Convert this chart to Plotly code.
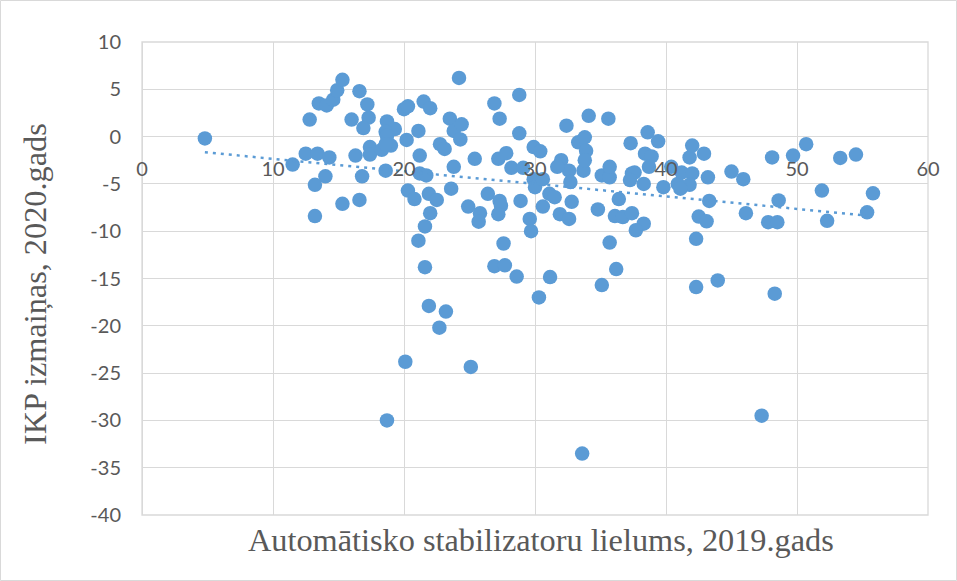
import plotly.graph_objects as go

# Automātisko stabilizatoru lielums, 2019 (x) vs IKP izmaiņas, 2020 (y)
x_vals = [
    4.8, 11.5, 12.5, 13.4, 14.3, 12.8, 13.5, 14.1, 14.6, 14.9,
    15.3, 16.6, 17.2, 17.3, 16.0, 16.9, 16.3, 17.4, 17.4, 14.0,
    13.2, 16.8, 15.3, 16.6, 13.2, 18.7, 19.3, 18.6, 20.0, 20.3,
    21.5, 22.0, 21.1, 20.2, 18.7, 19.0, 18.3, 18.6, 18.6, 20.3,
    20.8, 21.2, 21.2, 21.7, 21.9, 22.5, 22.0, 21.6, 21.1, 21.6,
    23.5, 23.8, 24.4, 24.3, 24.2, 22.75, 23.1, 23.8, 23.6, 25.4,
    24.9, 25.8, 25.7, 26.9, 27.3, 27.2, 27.8, 26.4, 27.3, 27.4,
    27.2, 27.6, 26.9, 27.7, 28.6, 28.8, 28.8, 28.2, 29.1, 29.9,
    30.4, 28.9, 29.6, 29.7, 29.9, 30.0, 30.6, 31.1, 31.5, 30.6,
    31.15, 32.0, 32.4, 31.9, 32.6, 32.6, 32.7, 32.8, 33.3, 33.8,
    33.9, 34.1, 33.7, 33.8, 34.8, 35.1, 35.7, 35.6, 35.7, 36.1,
    35.7, 36.2, 37.3, 38.6, 39.4, 38.4, 38.9, 38.7, 37.4, 37.6,
    37.25, 38.3, 36.4, 36.7, 37.4, 38.3, 37.7, 39.8, 40.4, 40.9,
    41.2, 41.8, 42.0, 42.9, 42.0, 41.8, 41.1, 43.2, 43.3, 42.5,
    43.1, 42.3, 43.95, 45.0, 45.9, 46.1, 48.1, 49.7, 50.7, 48.6,
    47.8, 48.5, 51.9, 53.3, 54.5, 52.3, 55.35, 55.8, 35.1, 42.3,
    48.3, 21.9, 23.2, 22.7, 30.3, 20.1, 25.1, 18.7, 47.3, 33.6,
    31.7,
]
y_vals = [
    -0.2, -2.95, -1.8, -1.8, -2.2, 1.8, 3.5, 3.3, 3.9, 4.9,
    6.0, 4.8, 3.4, 2.0, 1.8, 0.9, -2.0, -1.1, -1.9, -4.2,
    -5.1, -4.2, -7.1, -6.7, -8.4, 1.6, 0.8, 0.5, 2.9, 3.2,
    3.7, 3.0, 0.6, -0.35, 0.1, -0.95, -1.4, -3.6, -0.8, -5.7,
    -6.6, -2.0, -3.9, -4.1, -6.05, -6.7, -8.1, -9.5, -11.0, -13.8,
    1.9, 0.6, 1.3, -0.3, 6.2, -0.8, -1.3, -3.2, -5.5, -2.35,
    -7.4, -8.1, -9.0, 3.5, 1.9, -2.35, -1.75, -6.05, -6.8, -7.3,
    -8.2, -11.3, -13.7, -13.6, -14.8, 4.4, 0.35, -3.3, -3.3, -1.1,
    -1.55, -6.8, -8.7, -10.0, -4.5, -5.35, -4.5, -6.05, -6.4, -7.4,
    -14.85, -2.5, 1.15, -8.2, -8.7, -3.6, -4.8, -6.9, -0.6, -0.07,
    -1.5, 2.2, -3.6, -2.5, -7.7, -4.1, -4.3, 1.9, -3.2, -8.4,
    -11.2, -14.0, -0.7, 0.45, -0.5, -1.8, -2.1, -3.2, -3.9, -3.8,
    -4.6, -5.0, -6.6, -8.5, -8.1, -9.2, -9.9, -5.35, -3.2, -5.0,
    -3.8, -2.2, -0.95, -1.8, -3.9, -5.1, -5.5, -4.3, -6.8, -8.45,
    -8.95, -10.8, -15.2, -3.7, -4.5, -8.1, -2.2, -2.0, -0.8, -6.75,
    -9.05, -9.05, -5.7, -2.25, -1.9, -8.9, -8.0, -6.0, -15.7, -15.9,
    -16.6, -17.9, -18.5, -20.2, -17.0, -23.8, -24.35, -30.0, -29.5, -33.5,
    -3.2,
]

# Linear trendline endpoints
trend_x = [4.8, 55.8]
trend_y = [-1.66, -8.41]

x_ticks = [0, 10, 20, 30, 40, 50, 60]
y_ticks = [10, 5, 0, -5, -10, -15, -20, -25, -30, -35, -40]

x_title = "Automātisko stabilizatoru lielums, 2019.gads"
y_title = "IKP izmaiņas, 2020.gads"

BLUE = "#5B9BD5"
GRID = "#D9D9D9"
TXT = "#595959"

W, H = 957, 581
L, R, T, B = 142, 29, 42, 66
PW, PH = W - L - R, H - T - B

fig = go.Figure()
fig.add_trace(go.Scatter(
    x=x_vals, y=y_vals, mode="markers",
    marker=dict(size=14.5, color=BLUE, line=dict(width=0)),
    showlegend=False, hoverinfo="x+y",
))
fig.add_trace(go.Scatter(
    x=trend_x, y=trend_y, mode="lines",
    line=dict(color=BLUE, width=2.5, dash="3px,5px"),
    showlegend=False, hoverinfo="skip",
))

tick_font = dict(family="Lato, Open Sans, sans-serif", size=20, color=TXT)
title_font = dict(family="Liberation Serif, Times New Roman, serif", size=32.3, color=TXT)

fig.update_layout(
    width=W, height=H,
    margin=dict(l=L, r=R, t=T, b=B),
    paper_bgcolor="white", plot_bgcolor="white",
    font=tick_font,
    xaxis=dict(
        range=[0, 60], tickvals=x_ticks, ticktext=[str(v) for v in x_ticks],
        showgrid=True, gridcolor=GRID, gridwidth=1.3,
        zeroline=True, zerolinecolor=GRID, zerolinewidth=1.3,
        showline=False, ticks="", anchor="free", position=0.8,
        ticklabelstandoff=18, tickfont=tick_font,
    ),
    yaxis=dict(
        range=[-40, 10], tickvals=y_ticks, ticktext=[str(v) for v in y_ticks],
        showgrid=True, gridcolor=GRID, gridwidth=1.3,
        zeroline=True, zerolinecolor=GRID, zerolinewidth=1.3,
        showline=False, ticks="", ticklabelstandoff=20, tickfont=tick_font,
    ),
    shapes=[
        dict(type="rect", xref="paper", yref="paper", x0=0, y0=0, x1=1, y1=1,
             line=dict(color=GRID, width=1.3), layer="below"),
        dict(type="rect", xref="paper", yref="paper",
             x0=(0.5 - L) / PW, x1=(W - 0.5 - L) / PW,
             y0=(H - (H - 0.5) - B) / PH, y1=(H - 0.5 - B) / PH,
             line=dict(color=GRID, width=1), layer="below"),
    ],
    annotations=[
        dict(text=x_title, xref="paper", yref="paper",
             x=(540.6 - L) / PW, y=(H - B - 520) / PH,
             xanchor="center", yanchor="top", showarrow=False,
             font=title_font),
        dict(text=y_title, xref="paper", yref="paper", textangle=-90,
             x=(35 - L) / PW, y=(H - B - 284) / PH,
             xanchor="center", yanchor="middle", showarrow=False,
             font=title_font),
    ],
)

fig.write_html(
    "out.html",
    config={"displayModeBar": False},
    post_script="document.body.style.margin='0px';document.body.style.padding='0px';document.body.style.overflow='hidden';",
)
